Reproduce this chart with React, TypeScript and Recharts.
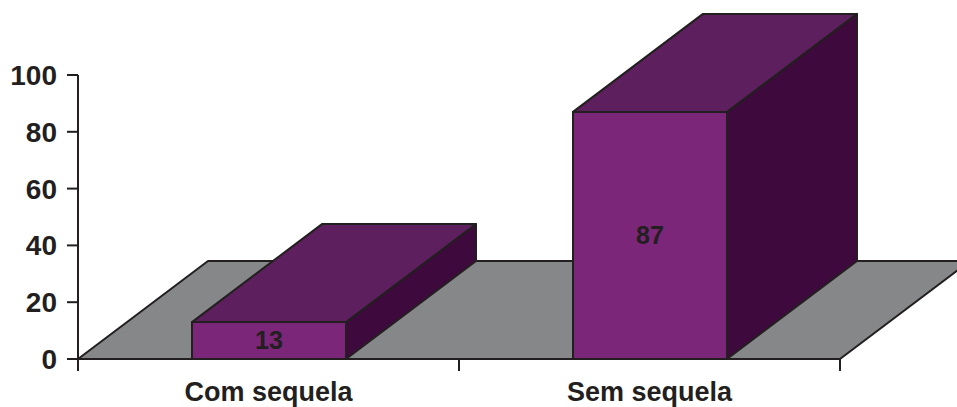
import { Bar, BarChart, LabelList, ReferenceArea, XAxis, YAxis } from "recharts";

// Sequela outcome, percent of cases
const CATEGORIES = ["Com sequela", "Sem sequela"];
const PERCENTS = [13, 87];
const Y_TICKS = [0, 20, 40, 60, 80, 100];

const data = CATEGORIES.map((name, i) => ({ name, value: PERCENTS[i] }));

const W = 957;
const H = 407;
const MARGIN = { top: 75, right: 117, bottom: 0, left: 0 };
const Y_AXIS_W = 78;
const X_AXIS_H = 48;
const PLOT_W = W - MARGIN.left - MARGIN.right - Y_AXIS_W;
const HALF_BAND = PLOT_W / CATEGORIES.length / 2;

// oblique depth of the floor and boxes
const DX = 130;
const DY = -98;

const INK = "#231F20";
const FRONT = "#7B2679";
const TOP = "#5E1F5E";
const SIDE = "#3E0A3D";
const FLOOR = "#868789";
const FONT = '"Liberation Sans", Arial, Helvetica, sans-serif';

function Box3D(props: any) {
  const { x, y, width: w, height: h } = props;
  if (w == null || h == null) return null;
  const top = `${x},${y} ${x + DX},${y + DY} ${x + w + DX},${y + DY} ${x + w},${y}`;
  const side = `${x + w},${y} ${x + w + DX},${y + DY} ${x + w + DX},${y + h + DY} ${x + w},${y + h}`;
  return (
    <g stroke={INK} strokeWidth={2} strokeLinejoin="round">
      <polygon points={side} fill={SIDE} />
      <polygon points={top} fill={TOP} />
      <rect x={x} y={y} width={w} height={h} fill={FRONT} />
    </g>
  );
}

function Floor(props: any) {
  const { x, y, width, height } = props;
  const b = y + height;
  const pts = `${x},${b} ${x + width},${b} ${x + width + DX},${b + DY} ${x + DX},${b + DY}`;
  return <polygon points={pts} fill={FLOOR} stroke={INK} strokeWidth={2} strokeLinejoin="round" />;
}

function CategoryTick(props: any) {
  const { x, y, payload, index } = props;
  const last = index === CATEGORIES.length - 1;
  return (
    <g>
      <line x1={x - HALF_BAND} x2={x - HALF_BAND} y1={y} y2={y + 12} stroke={INK} strokeWidth={2} />
      {last && <line x1={x + HALF_BAND} x2={x + HALF_BAND} y1={y} y2={y + 12} stroke={INK} strokeWidth={2} />}
      <text x={x} y={y + 42} textAnchor="middle" fill={INK} fontSize={27} fontWeight={700} fontFamily={FONT}>
        {payload.value}
      </text>
    </g>
  );
}

export default function App() {
  return (
    <div style={{ position: "absolute", left: 0, top: 0, background: "#fff" }}>
      <BarChart width={W} height={H} data={data} margin={MARGIN} barSize={154}>
        <ReferenceArea y1={0} y2={100} ifOverflow="visible" shape={<Floor />} />
        <XAxis
          dataKey="name"
          height={X_AXIS_H}
          axisLine={{ stroke: INK, strokeWidth: 2 }}
          tickLine={false}
          tickSize={0}
          tickMargin={0}
          tick={<CategoryTick />}
        />
        <YAxis
          domain={[0, 100]}
          ticks={Y_TICKS}
          width={Y_AXIS_W}
          axisLine={{ stroke: INK, strokeWidth: 2 }}
          tickLine={{ stroke: INK, strokeWidth: 2 }}
          tickSize={11}
          tickMargin={10}
          tick={{ fill: INK, fontSize: 28, fontWeight: 700, fontFamily: FONT }}
        />
        <Bar dataKey="value" shape={<Box3D />} isAnimationActive={false}>
          <LabelList dataKey="value" position="center" fill={INK} fontSize={25} fontWeight={700} fontFamily={FONT} />
        </Bar>
      </BarChart>
    </div>
  );
}
